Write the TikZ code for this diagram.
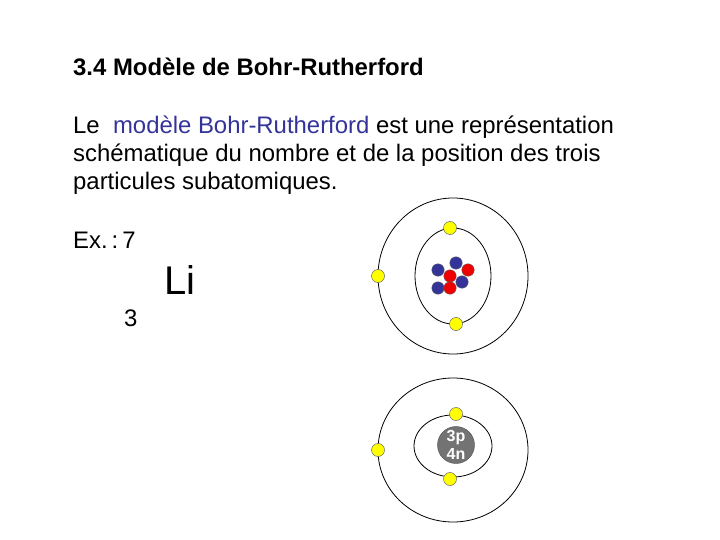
\documentclass[tikz,border=0pt]{standalone}
\usepackage{fontspec}
\setmainfont{Liberation Sans}
\definecolor{link}{HTML}{333399}
\definecolor{eyel}{HTML}{FFFF00}
\definecolor{pblue}{HTML}{333399}
\definecolor{pred}{HTML}{EE0000}
\begin{document}
\begin{tikzpicture}[x=1pt,y=-1pt,
  txt/.style={anchor=base west,inner sep=0pt,font=\fontsize{23.9}{28}\selectfont},
  orbit/.style={draw=black,line width=0.8pt},
  elec/.style={circle,draw=black!60,fill=eyel,minimum size=13pt,inner sep=0pt,line width=0.5pt},
  neu/.style={circle,draw=black!60,fill=pblue,minimum size=12.5pt,inner sep=0pt,line width=0.4pt},
  pro/.style={circle,draw=black!60,fill=pred,minimum size=12.5pt,inner sep=0pt,line width=0.4pt}]
\useasboundingbox (0,0) rectangle (720,540);
\node[txt,font=\fontsize{23.9}{28}\selectfont\bfseries] (title) at (73,76) {3.4 Modèle de Bohr-Rutherford};
\node[txt] (l1) at (73,134) {Le \ \textcolor{link}{modèle Bohr-Rutherford} est une représentation};
\node[txt] (l2) at (73,162) {schématique du nombre et de la position des trois};
\node[txt] (l3) at (73,190) {particules subatomiques.};
\node[txt] (ex) at (73,248) {Ex.\,:\,7};
\node[txt,font=\fontsize{40}{46}\selectfont] (li) at (164,294) {Li};
\node[txt] (three) at (124,326) {3};
% top atom
\draw[orbit] (453,276) ellipse [x radius=75,y radius=78];
\draw[orbit] (453,276) ellipse [x radius=38,y radius=48];
\node[neu] (n1) at (438,270) {};
\node[neu] (n2) at (456,263) {};
\node[pro] (p2) at (468,270) {};
\node[neu] (n3) at (462,282) {};
\node[neu] (n4) at (438,288) {};
\node[pro] (p1) at (450,276) {};
\node[pro] (p3) at (450,288) {};
\node[elec] (e1) at (450,228) {};
\node[elec] (e2) at (378,276) {};
\node[elec] (e3) at (456,324) {};
% bottom atom
\draw[orbit] (453,450) ellipse [x radius=75,y radius=72];
\draw[orbit] (453,446) ellipse [x radius=39,y radius=31];
\node[circle,draw=black!70,fill=black!55,minimum size=37pt,inner sep=0pt,text=white,align=center,font=\fontsize{16}{18}\selectfont\bfseries] (nuc) at (456,445) {3p\\4n};
\node[elec] (e4) at (456,414) {};
\node[elec] (e5) at (378,450) {};
\node[elec] (e6) at (450,479) {};
\end{tikzpicture}
\end{document}
